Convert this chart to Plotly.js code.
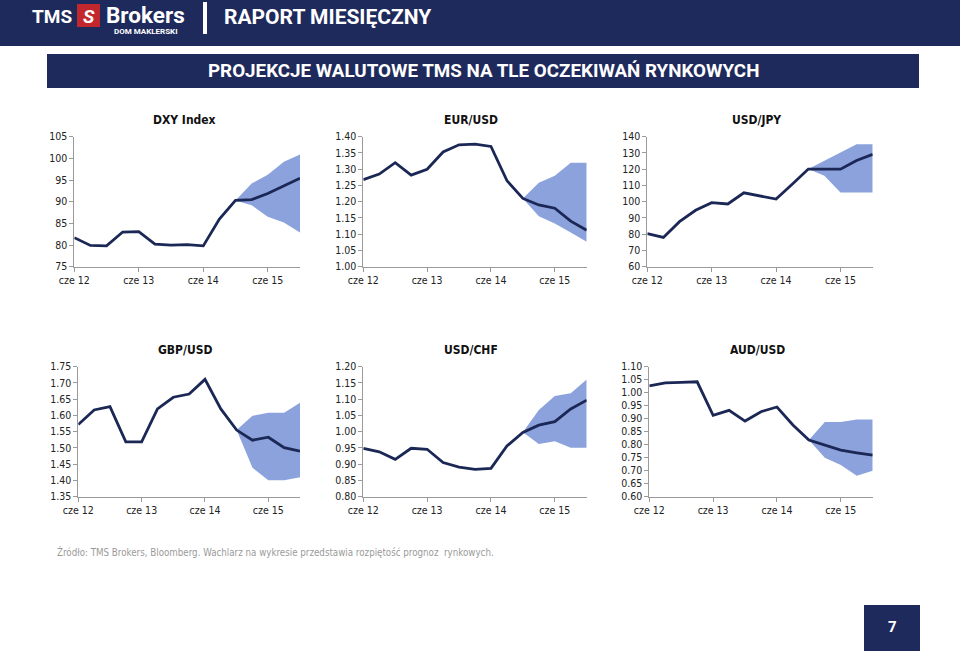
<!DOCTYPE html>
<html>
<head>
<meta charset="utf-8">
<script src="https://cdn.plot.ly/plotly-3.0.1.min.js"></script>
<style>
html,body{margin:0;padding:0;background:#fff;}
#chart{width:960px;height:651px;}
</style>
</head>
<body>
<div id="chart"></div>
<script>
// ---- data ----
const quarters = ['cze 12','wrz 12','gru 12','mar 13','cze 13','wrz 13','gru 13','mar 14','cze 14','wrz 14','gru 14','mar 15','cze 15','wrz 15','gru 15'];
const fanQuarters = ['gru 14','mar 15','cze 15','wrz 15','gru 15'];
const yearTicks = ['cze 12','cze 13','cze 14','cze 15'];

const dxy     = [81.7, 79.9, 79.8, 83.0, 83.1, 80.2, 80.0, 80.1, 79.8, 86.0, 90.3, 90.5, 91.9, 93.6, 95.4];
const dxyHigh = [90.3, 94.2, 96.2, 99.2, 100.9];
const dxyLow  = [90.3, 89.2, 86.5, 85.2, 82.9];

const eurusd  = [1.268, 1.285, 1.320, 1.282, 1.300, 1.353, 1.375, 1.377, 1.370, 1.265, 1.210, 1.190, 1.180, 1.140, 1.112];
const eurHigh = [1.210, 1.258, 1.280, 1.320, 1.320];
const eurLow  = [1.210, 1.155, 1.133, 1.105, 1.077];

const usdjpy  = [80.3, 78.0, 87.7, 94.7, 99.4, 98.6, 105.5, 103.6, 101.6, 110.7, 120.1, 120.0, 120.0, 125.4, 129.1];
const jpyHigh = [120.1, 125.2, 130.4, 135.3, 135.3];
const jpyLow  = [120.1, 116.0, 105.7, 105.7, 105.7];

const gbpusd  = [1.572, 1.617, 1.627, 1.519, 1.519, 1.620, 1.656, 1.666, 1.711, 1.620, 1.555, 1.524, 1.533, 1.501, 1.490];
const gbpHigh = [1.555, 1.599, 1.608, 1.608, 1.639];
const gbpLow  = [1.555, 1.439, 1.401, 1.401, 1.410];

const usdchf  = [0.949, 0.938, 0.915, 0.949, 0.946, 0.905, 0.891, 0.884, 0.887, 0.956, 0.998, 1.020, 1.031, 1.070, 1.097];
const chfHigh = [0.998, 1.067, 1.110, 1.118, 1.161];
const chfLow  = [0.998, 0.962, 0.971, 0.951, 0.951];

const audusd  = [1.026, 1.038, 1.040, 1.042, 0.913, 0.932, 0.891, 0.927, 0.945, 0.876, 0.818, 0.799, 0.779, 0.769, 0.760];
const audHigh = [0.818, 0.887, 0.887, 0.897, 0.897];
const audLow  = [0.818, 0.750, 0.722, 0.681, 0.700];

const chartTitles = ['DXY Index','EUR/USD','USD/JPY','GBP/USD','USD/CHF','AUD/USD'];

// ---- layout helpers ----
const W = 960, H = 651;
const px = v => v / W;
const py = v => 1 - v / H;
const NAVY = '#1f2a5c';
const LINE = '#1b2755';
const FAN = 'rgb(140,162,221)';
const FONT = 'DejaVu Sans Condensed, DejaVu Sans, sans-serif';

const charts = [
  {title: chartTitles[0], y: dxy, hi: dxyHigh, lo: dxyLow, range: [75,105], dtick: 5, fmt: '', x0: 74.3, x1: 300, top: 136.7, bot: 266.7, tx: 184, ty: 120},
  {title: chartTitles[1], y: eurusd, hi: eurHigh, lo: eurLow, range: [1.0,1.4], dtick: 0.05, fmt: '.2f', x0: 363.3, x1: 586.7, top: 136.7, bot: 266.7, tx: 471, ty: 120},
  {title: chartTitles[2], y: usdjpy, hi: jpyHigh, lo: jpyLow, range: [60,140], dtick: 10, fmt: '', x0: 647.3, x1: 872.7, top: 136.7, bot: 266.7, tx: 756, ty: 120},
  {title: chartTitles[3], y: gbpusd, hi: gbpHigh, lo: gbpLow, range: [1.35,1.75], dtick: 0.05, fmt: '.2f', x0: 78.3, x1: 300, top: 366.7, bot: 496.7, tx: 185, ty: 350},
  {title: chartTitles[4], y: usdchf, hi: chfHigh, lo: chfLow, range: [0.8,1.2], dtick: 0.05, fmt: '.2f', x0: 363.3, x1: 586.7, top: 366.7, bot: 496.7, tx: 471, ty: 350},
  {title: chartTitles[5], y: audusd, hi: audHigh, lo: audLow, range: [0.6,1.1], dtick: 0.05, fmt: '.2f', x0: 649.3, x1: 872.7, top: 366.7, bot: 496.7, tx: 757, ty: 350}
];

const traces = [];
const layout = {
  width: W, height: H,
  margin: {l: 0, r: 0, t: 0, b: 0},
  paper_bgcolor: '#fff', plot_bgcolor: 'rgba(0,0,0,0)',
  showlegend: false,
  font: {family: FONT, size: 10.5, color: '#222'},
  shapes: [], annotations: []
};

charts.forEach((c, i) => {
  const n = i === 0 ? '' : String(i + 1);
  const xa = 'x' + n, ya = 'y' + n;
  traces.push({
    type: 'scatter', mode: 'lines', xaxis: xa, yaxis: ya,
    x: fanQuarters.concat(fanQuarters.slice().reverse()),
    y: c.hi.concat(c.lo.slice().reverse()),
    fill: 'toself', fillcolor: FAN, line: {width: 0}, hoverinfo: 'skip'
  });
  traces.push({
    type: 'scatter', mode: 'lines', xaxis: xa, yaxis: ya,
    x: quarters, y: c.y,
    line: {color: LINE, width: 2.8}
  });
  layout['xaxis' + n] = {
    type: 'category', categoryorder: 'array', categoryarray: quarters,
    domain: [px(c.x0), px(c.x1)], anchor: ya, range: [0, quarters.length - 1],
    tickmode: 'array', tickvals: yearTicks, ticktext: yearTicks,
    showline: true, linecolor: '#9a9a9a', linewidth: 1,
    ticks: 'outside', ticklen: 4, tickcolor: '#9a9a9a',
    showgrid: false, zeroline: false, fixedrange: true,
    tickfont: {family: FONT, size: 10.5, color: '#222'}
  };
  layout['yaxis' + n] = {
    domain: [py(c.bot), py(c.top)], anchor: xa, range: c.range,
    dtick: c.dtick, tick0: c.range[0], tickformat: c.fmt,
    showline: true, linecolor: '#9a9a9a', linewidth: 1,
    ticks: 'outside', ticklen: 4, tickcolor: '#9a9a9a',
    showgrid: false, zeroline: false, fixedrange: true,
    tickfont: {family: FONT, size: 10.5, color: '#222'}
  };
  layout.annotations.push({
    text: '<b>' + c.title + '</b>', xref: 'paper', yref: 'paper',
    x: px(c.tx), y: py(c.ty), xanchor: 'center', yanchor: 'middle',
    showarrow: false, font: {family: FONT, size: 12, color: '#111'}
  });
});

// header band
layout.shapes.push({type: 'rect', xref: 'paper', yref: 'paper', x0: 0, x1: 1, y0: py(46), y1: 1, fillcolor: NAVY, line: {width: 0}, layer: 'below'});
// red logo square
layout.shapes.push({type: 'rect', xref: 'paper', yref: 'paper', x0: px(77), x1: px(100), y0: py(27), y1: py(4), fillcolor: '#c1272d', line: {width: 0}});
// separator bar
layout.shapes.push({type: 'rect', xref: 'paper', yref: 'paper', x0: px(203), x1: px(207), y0: py(34), y1: py(2), fillcolor: '#ffffff', line: {width: 0}});
// title banner
layout.shapes.push({type: 'rect', xref: 'paper', yref: 'paper', x0: px(47), x1: px(919), y0: py(88), y1: py(54), fillcolor: NAVY, line: {width: 0}, layer: 'below'});
// page number box
layout.shapes.push({type: 'rect', xref: 'paper', yref: 'paper', x0: px(864), x1: px(920), y0: 0, y1: py(605), fillcolor: NAVY, line: {width: 0}, layer: 'below'});

const HF = 'Roboto, Liberation Sans, sans-serif';
layout.annotations.push(
  {text: '<b>TMS</b>', xref: 'paper', yref: 'paper', x: px(30), y: py(16), xanchor: 'left', yanchor: 'middle', showarrow: false, font: {family: HF, size: 19, color: '#fff'}},
  {text: '<b><i>S</i></b>', xref: 'paper', yref: 'paper', x: px(88.5), y: py(16), xanchor: 'center', yanchor: 'middle', showarrow: false, font: {family: HF, size: 19, color: '#fff'}},
  {text: '<b>Brokers</b>', xref: 'paper', yref: 'paper', x: px(104), y: py(15), xanchor: 'left', yanchor: 'middle', showarrow: false, font: {family: HF, size: 22.5, color: '#fff'}},
  {text: '<b>DOM MAKLERSKI</b>', xref: 'paper', yref: 'paper', x: px(146), y: py(31), xanchor: 'center', yanchor: 'middle', showarrow: false, font: {family: HF, size: 8, color: '#fff'}},
  {text: '<b>RAPORT MIESIĘCZNY</b>', xref: 'paper', yref: 'paper', x: px(222), y: py(17), xanchor: 'left', yanchor: 'middle', showarrow: false, font: {family: HF, size: 21, color: '#fff'}},
  {text: '<b>PROJEKCJE WALUTOWE TMS NA TLE OCZEKIWAŃ RYNKOWYCH</b>', xref: 'paper', yref: 'paper', x: px(483), y: py(71), xanchor: 'center', yanchor: 'middle', showarrow: false, font: {family: HF, size: 18.8, color: '#fff'}},
  {text: 'Źródło: TMS Brokers, Bloomberg. Wachlarz na wykresie przedstawia rozpiętość prognoz  rynkowych.', xref: 'paper', yref: 'paper', x: px(55), y: py(552), xanchor: 'left', yanchor: 'middle', showarrow: false, font: {family: FONT, size: 9.7, color: '#9a9a9a'}},
  {text: '<b>7</b>', xref: 'paper', yref: 'paper', x: px(892), y: py(627), xanchor: 'center', yanchor: 'middle', showarrow: false, font: {family: HF, size: 15, color: '#fff'}}
);

Plotly.newPlot('chart', traces, layout, {displayModeBar: false, staticPlot: true});
</script>
</body>
</html>
